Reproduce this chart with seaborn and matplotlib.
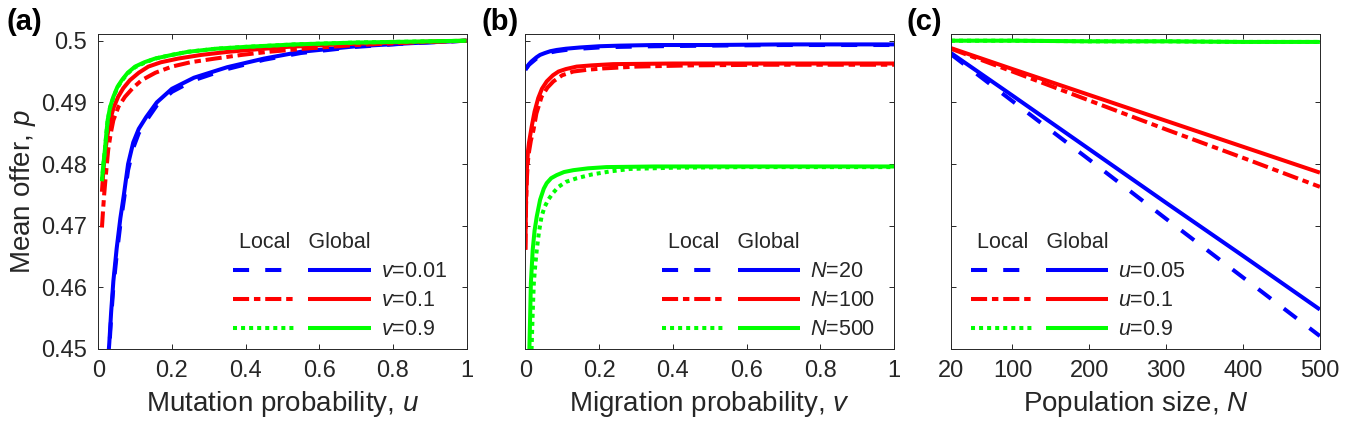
import numpy as np
import pandas as pd
import matplotlib
matplotlib.use("Agg")
import matplotlib.pyplot as plt
import seaborn as sns
from matplotlib.lines import Line2D

# ==========================================================
# DATA
# ==========================================================

# (a) mean offer vs mutation probability u
u_blue_global = [0.020, 0.027, 0.030, 0.035, 0.041, 0.050, 0.060, 0.070, 0.081, 0.095,
                 0.110, 0.130, 0.159, 0.200, 0.260, 0.350, 0.450, 0.550, 0.700, 0.850, 1.0]
p_blue_global = [0.4330, 0.4485, 0.4510, 0.4560, 0.4610, 0.4663, 0.4712, 0.4752, 0.4800, 0.4835,
                 0.4857, 0.4876, 0.4900, 0.4922, 0.4940, 0.4957, 0.4971, 0.4982, 0.4991, 0.4996, 0.5000]
u_blue_local = u_blue_global
p_blue_local = [0.4320, 0.4478, 0.4502, 0.4551, 0.4600, 0.4652, 0.4702, 0.4743, 0.4790, 0.4826,
                0.4850, 0.4870, 0.4895, 0.4917, 0.4936, 0.4954, 0.4969, 0.4980, 0.4990, 0.4996, 0.5000]

u_red_global = [0.010, 0.014, 0.018, 0.024, 0.032, 0.042, 0.054, 0.068, 0.086, 0.110,
                0.136, 0.170, 0.217, 0.280, 0.353, 0.430, 0.515, 0.650, 0.800, 1.0]
p_red_global = [0.4755, 0.4790, 0.4815, 0.4843, 0.4871, 0.4892, 0.4909, 0.4923, 0.4936, 0.4948,
                0.4958, 0.4965, 0.4971, 0.4977, 0.4982, 0.4986, 0.4990, 0.4994, 0.4997, 0.5000]
u_red_local = [0.010, 0.013, 0.016, 0.020, 0.027, 0.034, 0.041, 0.055, 0.0725, 0.095, 0.118,
               0.155, 0.200, 0.250, 0.317, 0.390, 0.462, 0.580, 0.700, 0.850, 1.0]
p_red_local = [0.4697, 0.4725, 0.4750, 0.4778, 0.4823, 0.4850, 0.4871, 0.4893, 0.4909, 0.4924, 0.4936,
               0.4948, 0.4958, 0.4965, 0.4971, 0.4977, 0.4982, 0.4988, 0.4993, 0.4997, 0.5000]

u_green_global = [0.010, 0.014, 0.018, 0.022, 0.0255, 0.032, 0.041, 0.052, 0.064, 0.080,
                  0.100, 0.125, 0.154, 0.200, 0.244, 0.320, 0.400, 0.534, 0.700, 1.0]
p_green_global = [0.4774, 0.4800, 0.4823, 0.4850, 0.4871, 0.4892, 0.4909, 0.4925, 0.4936, 0.4948,
                  0.4958, 0.4965, 0.4971, 0.4977, 0.4982, 0.4987, 0.4990, 0.4994, 0.4997, 0.5000]
u_green_local = u_green_global
p_green_local = [0.4772, 0.4799, 0.4822, 0.4849, 0.4870, 0.4891, 0.4908, 0.4924, 0.4935, 0.4947,
                 0.4957, 0.4964, 0.4971, 0.4977, 0.4982, 0.4987, 0.4990, 0.4994, 0.4997, 0.5000]

# (b) mean offer vs migration probability v
v_blue_global = [0, 0.005, 0.010, 0.016, 0.022, 0.030, 0.040, 0.053, 0.068, 0.085,
                 0.110, 0.148, 0.200, 0.257, 0.350, 0.500, 0.700, 1.0]
p_blue_global_b = [0.4953, 0.4958, 0.4962, 0.4966, 0.4969, 0.4973, 0.4977, 0.4980, 0.4983, 0.4985,
                   0.4987, 0.4989, 0.4991, 0.4992, 0.4993, 0.4993, 0.4994, 0.4994]
v_blue_local = v_blue_global
p_blue_local_b = [0.4953, 0.4957, 0.4961, 0.4964, 0.4967, 0.4971, 0.4975, 0.4978, 0.4981, 0.4983,
                  0.4985, 0.4987, 0.4989, 0.4990, 0.4991, 0.4992, 0.4993, 0.4993]

v_red_global = [0, 0.002, 0.004, 0.007, 0.010, 0.017, 0.025, 0.035, 0.045, 0.058,
                0.075, 0.090, 0.110, 0.139, 0.180, 0.238, 0.400, 0.600, 1.0]
p_red_global_b = [0.4661, 0.4745, 0.4790, 0.4820, 0.4835, 0.4860, 0.4885, 0.4907, 0.4922, 0.4934,
                  0.4944, 0.4950, 0.4954, 0.4958, 0.4960, 0.4962, 0.4963, 0.4963, 0.4963]
v_red_local = [0, 0.002, 0.004, 0.007, 0.010, 0.015, 0.022, 0.030, 0.044, 0.060,
               0.076, 0.100, 0.130, 0.170, 0.210, 0.300, 0.450, 0.650, 1.0]
p_red_local_b = [0.4661, 0.4735, 0.4775, 0.4805, 0.4820, 0.4838, 0.4855, 0.4882, 0.4909, 0.4924,
                 0.4934, 0.4944, 0.4950, 0.4953, 0.4955, 0.4958, 0.4960, 0.4961, 0.4961]

v_green_global = [0.008, 0.011, 0.013, 0.015, 0.020, 0.025, 0.031, 0.040, 0.050, 0.058,
                  0.070, 0.085, 0.105, 0.130, 0.170, 0.220, 0.350, 0.550, 0.800, 1.0]
p_green_global_b = [0.4400, 0.4502, 0.4553, 0.4607, 0.4661, 0.4692, 0.4715, 0.4742, 0.4760, 0.4769,
                    0.4777, 0.4782, 0.4787, 0.4790, 0.4793, 0.4795, 0.4796, 0.4796, 0.4796, 0.4796]
v_green_local = [0.013, 0.017, 0.020, 0.023, 0.027, 0.031, 0.037, 0.044, 0.052, 0.062,
                 0.075, 0.090, 0.110, 0.140, 0.180, 0.230, 0.284, 0.400, 0.600, 1.0]
p_green_local_b = [0.4420, 0.4502, 0.4560, 0.4607, 0.4637, 0.4661, 0.4690, 0.4715, 0.4730, 0.4742,
                   0.4753, 0.4763, 0.4771, 0.4777, 0.4783, 0.4788, 0.4792, 0.4794, 0.4795, 0.4795]

# (c) mean offer vs population size N
N_values = [20, 100, 200, 300, 400, 500]
p_blue_global_c = [0.4980, 0.4911, 0.4824, 0.4737, 0.4651, 0.4564]
p_blue_local_c = [0.4978, 0.4902, 0.4807, 0.4711, 0.4616, 0.4521]
p_red_global_c = [0.4988, 0.4954, 0.4912, 0.4870, 0.4828, 0.4786]
p_red_local_c = [0.4987, 0.4950, 0.4903, 0.4856, 0.4810, 0.4763]
p_green_global_c = [0.5000, 0.5000, 0.4999, 0.4999, 0.4998, 0.4998]
p_green_local_c = [0.5000, 0.5000, 0.4999, 0.4999, 0.4998, 0.4998]

legend_a = ["$v$=0.01", "$v$=0.1", "$v$=0.9"]
legend_b = ["$N$=20", "$N$=100", "$N$=500"]
legend_c = ["$u$=0.05", "$u$=0.1", "$u$=0.9"]

# ==========================================================
# STYLE
# ==========================================================

sns.set_style("ticks")
DARK = "#262626"
plt.rcParams["font.family"] = ["Liberation Sans", "DejaVu Sans"]
plt.rcParams["mathtext.fontset"] = "custom"
plt.rcParams["mathtext.rm"] = "Liberation Sans"
plt.rcParams["mathtext.it"] = "Liberation Sans:italic"
plt.rcParams["text.color"] = DARK
plt.rcParams["axes.labelcolor"] = DARK

BLUE, RED, GREEN = "#0000ff", "#ff0000", "#00ff00"
LW = 2.9
DASH = (0, (4, 4))
DASHDOT = (0, (4, 1.2, 1.6, 1.2))
DOT = (0, (1, 1))
COLORS = [BLUE, RED, GREEN]
LOCAL_STYLES = [DASH, DASHDOT, DOT]

fig = plt.figure(figsize=(13.46, 4.34), dpi=100)
bottom, height = 0.1959, 0.7258
ax_a = fig.add_axes([0.0730, bottom, 0.2736, height])
ax_b = fig.add_axes([0.3903, bottom, 0.2739, height])
ax_c = fig.add_axes([0.7065, bottom, 0.2741, height])


def curve(ax, x, y, color, ls):
    sns.lineplot(x=x, y=y, color=color, linestyle=ls, linewidth=LW,
                 estimator=None, sort=False, ax=ax,
                 dash_capstyle="butt", solid_capstyle="butt")


def style_axes(ax, xlim, xticks, xticklabels, xlabel, show_y):
    ax.set_xlim(*xlim)
    ax.set_ylim(0.45, 0.50109)
    ax.set_xticks(xticks)
    ax.set_xticklabels(xticklabels)
    ax.set_yticks([0.45, 0.46, 0.47, 0.48, 0.49, 0.50])
    if show_y:
        ax.set_yticklabels(["0.45", "0.46", "0.47", "0.48", "0.49", "0.5"])
        ax.set_ylabel("Mean offer, $p$", fontsize=20, labelpad=2)
    else:
        ax.set_yticklabels([])
    ax.set_xlabel(xlabel, fontsize=20, labelpad=5)
    ax.tick_params(direction="in", length=3.6, width=0.7, top=True, right=True,
                   labelsize=17, colors=DARK, pad=8)
    for sp in ax.spines.values():
        sp.set_color(DARK)
        sp.set_linewidth(0.7)


def add_legend(ax, labels, x0):
    local = [Line2D([], [], color=c, lw=LW, linestyle=s, dash_capstyle="butt")
             for c, s in zip(COLORS, LOCAL_STYLES)]
    glob = [Line2D([], [], color=c, lw=LW, solid_capstyle="butt") for c in COLORS]
    ax.legend(local + glob, ["", "", ""] + labels, ncol=2, title=" Local   Global",
              loc="upper left", bbox_to_anchor=(x0, 0.37), frameon=False,
              fontsize=15.5, title_fontsize=15.5, handlelength=2.9, handletextpad=0.45,
              columnspacing=0.15, labelspacing=0.37, borderpad=0, borderaxespad=0,
              alignment="left")


# ==========================================================
# PANEL (a)
# ==========================================================

curve(ax_a, u_blue_local, p_blue_local, BLUE, DASH)
curve(ax_a, u_blue_global, p_blue_global, BLUE, "-")
curve(ax_a, u_red_local, p_red_local, RED, DASHDOT)
curve(ax_a, u_red_global, p_red_global, RED, "-")
curve(ax_a, u_green_local, p_green_local, GREEN, DOT)
curve(ax_a, u_green_global, p_green_global, GREEN, "-")
style_axes(ax_a, (0, 1), [0, 0.2, 0.4, 0.6, 0.8, 1],
           ["0", "0.2", "0.4", "0.6", "0.8", "1"], "Mutation probability, $u$", True)
add_legend(ax_a, legend_a, 0.366)

# ==========================================================
# PANEL (b)
# ==========================================================

curve(ax_b, v_blue_local, p_blue_local_b, BLUE, DASH)
curve(ax_b, v_blue_global, p_blue_global_b, BLUE, "-")
curve(ax_b, v_red_local, p_red_local_b, RED, DASHDOT)
curve(ax_b, v_red_global, p_red_global_b, RED, "-")
curve(ax_b, v_green_local, p_green_local_b, GREEN, DOT)
curve(ax_b, v_green_global, p_green_global_b, GREEN, "-")
style_axes(ax_b, (0, 1), [0, 0.2, 0.4, 0.6, 0.8, 1],
           ["0", "0.2", "0.4", "0.6", "0.8", "1"], "Migration probability, $v$", False)
add_legend(ax_b, legend_b, 0.372)

# ==========================================================
# PANEL (c)
# ==========================================================

curve(ax_c, N_values, p_blue_local_c, BLUE, DASH)
curve(ax_c, N_values, p_blue_global_c, BLUE, "-")
curve(ax_c, N_values, p_red_local_c, RED, DASHDOT)
curve(ax_c, N_values, p_red_global_c, RED, "-")
curve(ax_c, N_values, p_green_local_c, GREEN, DOT)
curve(ax_c, N_values, p_green_global_c, GREEN, "-")
style_axes(ax_c, (20, 500), [20, 100, 200, 300, 400, 500],
           ["20", "100", "200", "300", "400", "500"], "Population size, $N$", False)
add_legend(ax_c, legend_c, 0.053)

# panel letters
for xpos, letter in [(0.0052, "(a)"), (0.358, "(b)"), (0.6736, "(c)")]:
    fig.text(xpos, 0.982, letter, fontsize=21, fontweight="bold", va="top", color="black")

fig.savefig("out.png", dpi=100)
